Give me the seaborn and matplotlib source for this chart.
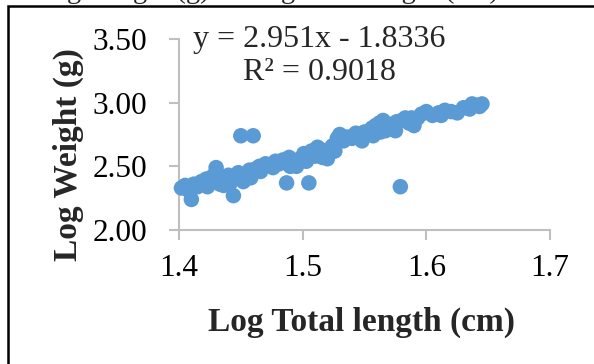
import matplotlib
matplotlib.use("Agg")
import matplotlib.pyplot as plt
import seaborn as sns
import pandas as pd
from matplotlib.patches import Rectangle

log_length = [1.402, 1.405, 1.408, 1.410, 1.412, 1.415, 1.418, 1.420, 1.422, 1.425,
              1.427, 1.430, 1.431, 1.433, 1.435, 1.437, 1.440, 1.442, 1.444, 1.446,
              1.448, 1.450, 1.452, 1.455, 1.457, 1.460, 1.462, 1.465, 1.468, 1.470,
              1.474, 1.478, 1.481, 1.484, 1.487, 1.489, 1.492, 1.495, 1.498, 1.501,
              1.505, 1.507, 1.510, 1.512, 1.515, 1.518, 1.520, 1.524, 1.528, 1.530,
              1.533, 1.536, 1.540, 1.543, 1.547, 1.550, 1.553, 1.556, 1.559, 1.562,
              1.565, 1.567, 1.570, 1.573, 1.576, 1.579, 1.580, 1.583, 1.586, 1.590,
              1.593, 1.596, 1.600, 1.605, 1.610, 1.615, 1.620, 1.625, 1.630, 1.635,
              1.640, 1.643, 1.645,
              1.423, 1.436, 1.441, 1.458, 1.466, 1.476, 1.490, 1.503, 1.516, 1.526,
              1.548, 1.557, 1.563, 1.575, 1.588, 1.612, 1.637]
log_weight = [2.33, 2.35, 2.31, 2.24, 2.36, 2.34, 2.38, 2.36, 2.40, 2.37,
              2.42, 2.49, 2.44, 2.36, 2.40, 2.38, 2.43, 2.40, 2.27, 2.42,
              2.45, 2.74, 2.38, 2.44, 2.47, 2.74, 2.48, 2.50, 2.49, 2.52,
              2.51, 2.54, 2.52, 2.55, 2.37, 2.57, 2.53, 2.50, 2.56, 2.60,
              2.37, 2.62, 2.58, 2.65, 2.63, 2.60, 2.56, 2.66, 2.72, 2.75,
              2.70, 2.73, 2.72, 2.76, 2.74, 2.77, 2.75, 2.80, 2.82, 2.84,
              2.86, 2.78, 2.83, 2.81, 2.85, 2.34, 2.86, 2.88, 2.84, 2.82,
              2.88, 2.91, 2.93, 2.90, 2.92, 2.94, 2.93, 2.92, 2.96, 2.95,
              2.98, 2.97, 2.99,
              2.34, 2.35, 2.36, 2.41, 2.46, 2.49, 2.50, 2.54, 2.57, 2.62,
              2.70, 2.74, 2.77, 2.78, 2.88, 2.90, 2.99]

x_ticks = [1.4, 1.5, 1.6, 1.7]
y_ticks = [2.0, 2.5, 3.0, 3.5]
equation = "y = 2.951x - 1.8336"
r_squared = "R² = 0.9018"
cut_title = "Log Weight (g) vs Log Total length (cm)"

df = pd.DataFrame({"len": log_length, "wt": log_weight})

sns.set_theme(style="white")
plt.rcParams["font.family"] = ["Liberation Serif", "DejaVu Serif"]

fig = plt.figure(figsize=(5.94, 3.64), dpi=100)
ax = fig.add_axes([179/594, 1 - 230/364, (550 - 179)/594, (230 - 39)/364])

sns.scatterplot(data=df, x="len", y="wt", ax=ax, color="#5B9BD5", s=125,
                edgecolor="none", linewidth=0, clip_on=False, legend=False, zorder=3)

ax.set_xlim(1.4, 1.7)
ax.set_ylim(2.0, 3.5)
ax.set_xticks(x_ticks)
ax.set_xticklabels([f"{v:.1f}" for v in x_ticks])
ax.set_yticks(y_ticks)
ax.set_yticklabels([f"{v:.2f}" for v in y_ticks])

for s in ["top", "right"]:
    ax.spines[s].set_visible(False)
for s in ["left", "bottom"]:
    ax.spines[s].set_color("#BFBFBF")
    ax.spines[s].set_linewidth(1.5)

ax.tick_params(axis="both", which="major", direction="out", length=7, width=1.5,
               color="#BFBFBF", labelsize=22.5, labelcolor="black")
ax.tick_params(axis="x", pad=10, bottom=True)
ax.tick_params(axis="y", pad=16, left=True)

ax.set_xlabel("")
ax.set_ylabel("")
fig.text(362/594, 1 - 322/364, "Log Total length (cm)", ha="center", va="center",
         fontsize=24, fontweight="bold")
fig.text(68/594, 1 - 155/364, "Log Weight (g)", ha="center", va="center",
         rotation=90, fontsize=24, fontweight="bold")

fig.text(319/594, 1 - 47/364, equation, ha="center", va="baseline", fontsize=23)
fig.text(319/594, 1 - 80/364, r_squared, ha="center", va="baseline", fontsize=23)

# cut-off title of the source figure (only descenders visible)
fig.text(267/594, 1 + 2/364, cut_title, ha="center", va="baseline", fontsize=20.5)

fig.patches.append(Rectangle((8/594, -0.1), 1.0, 1 - 6/364 + 0.1, transform=fig.transFigure,
                             fill=False, edgecolor="black", linewidth=1.8))

fig.savefig("out.png", dpi=100)
